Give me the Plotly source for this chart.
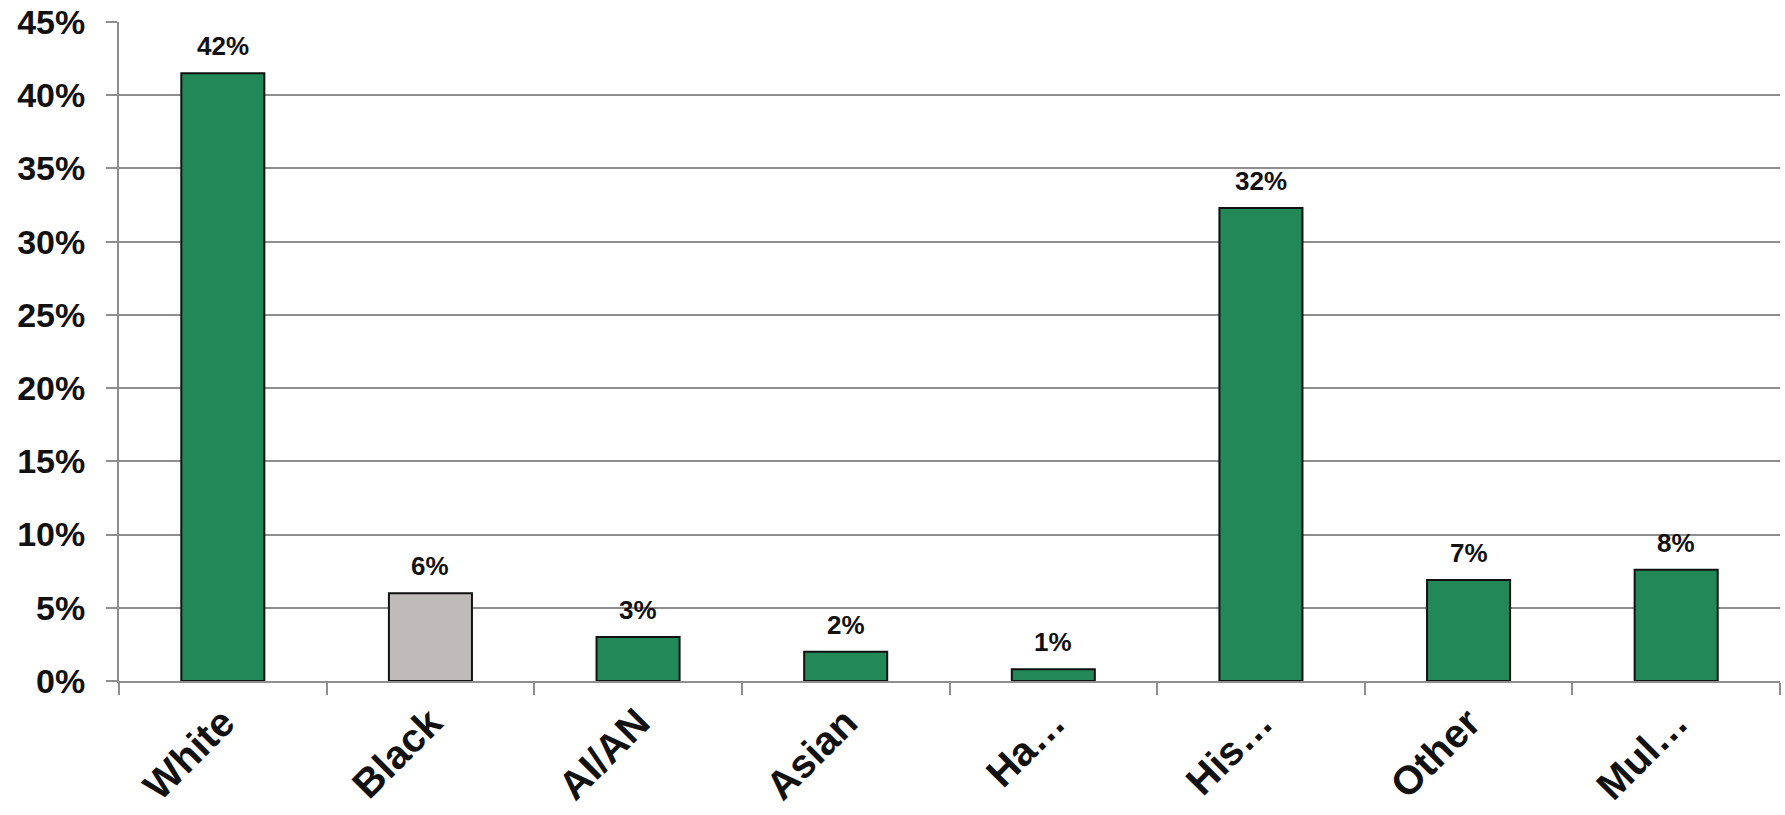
import plotly.graph_objects as go

categories = ["White", "Black", "AI/AN", "Asian", "Ha…", "His…", "Other", "Mul…"]
shares = [41.5, 6.0, 3.0, 2.0, 0.8, 32.3, 6.9, 7.6]
bar_colors = ["#238857", "#C0BBBB", "#238857", "#238857", "#238857", "#238857", "#238857", "#238857"]
y_ticks = [0, 5, 10, 15, 20, 25, 30, 35, 40, 45]
y_tick_labels = [f"{v}%" for v in y_ticks]

FONT = "Liberation Sans, Arial, sans-serif"

fig = go.Figure(
    go.Bar(
        x=categories,
        y=shares,
        width=0.4,
        marker=dict(color=bar_colors, line=dict(color="#111111", width=2)),
        hoverinfo="skip",
    )
)

# value labels above each bar, derived from the bar values
for cat, val in zip(categories, shares):
    fig.add_annotation(
        x=cat, y=val, text=f"{round(val):.0f}%", showarrow=False,
        yanchor="bottom", yshift=10,
        font=dict(family=FONT, size=26, color="#111111", weight=700),
    )

fig.update_layout(
    width=1785, height=815,
    margin=dict(l=119, r=5, t=22, b=134, autoexpand=False),
    paper_bgcolor="white", plot_bgcolor="white",
    showlegend=False,
    bargap=0.6,
)

fig.update_yaxes(
    range=[0, 45],
    tickvals=y_ticks, ticktext=y_tick_labels,
    showgrid=True, gridcolor="#8E8E8E", gridwidth=2,
    showline=True, linecolor="#8E8E8E", linewidth=2,
    ticks="outside", ticklen=11, tickcolor="#8E8E8E", tickwidth=2,
    ticklabelstandoff=14,
    zeroline=False, automargin=False,
    tickfont=dict(family=FONT, size=34, color="#111111", weight=700),
)

fig.update_xaxes(
    tickson="boundaries",
    showline=True, linecolor="#8E8E8E", linewidth=2,
    ticks="outside", ticklen=12, tickcolor="#8E8E8E", tickwidth=2,
    showgrid=False, automargin=False,
    tickangle=-45,
    ticklabelstandoff=0,
    tickfont=dict(family=FONT, size=40, color="#111111", weight=700),
)

fig.write_html("out.html")
